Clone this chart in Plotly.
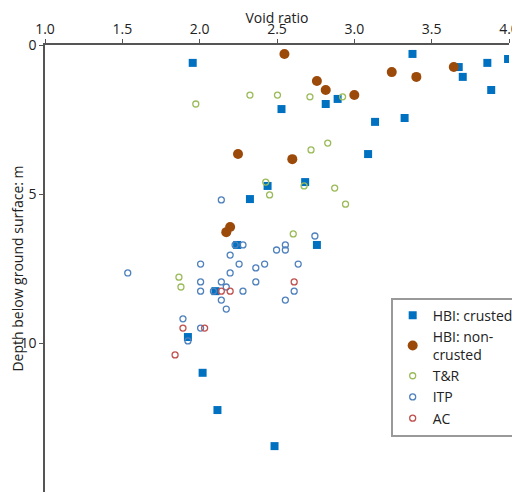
import plotly.graph_objects as go

# HBI: crusted
hbi_c_x = [1.955, 3.376, 3.860, 3.994, 3.675, 3.701, 3.885, 2.529, 2.815, 2.892, 3.134, 3.325,
           3.089, 2.682, 2.439, 2.325, 2.758, 2.242, 2.102, 1.924, 2.019, 2.115, 2.484]
hbi_c_y = [0.60, 0.30, 0.60, 0.47, 0.74, 1.07, 1.51, 2.15, 1.98, 1.81, 2.58, 2.45,
           3.66, 4.60, 4.73, 5.17, 6.71, 6.71, 8.26, 9.80, 11.0, 12.25, 13.46]
# HBI: non-crusted
hbi_n_x = [3.643, 3.401, 3.242, 3.000, 2.815, 2.758, 2.548, 2.248, 2.599, 2.197, 2.172]
hbi_n_y = [0.74, 1.07, 0.91, 1.68, 1.51, 1.21, 0.30, 3.66, 3.83, 6.11, 6.28]
# T&R
tr_x = [1.975, 2.325, 2.503, 2.713, 2.924, 2.828, 2.720, 2.427, 2.675, 2.873, 2.452, 2.605, 1.866, 1.879, 2.943]
tr_y = [1.98, 1.68, 1.68, 1.74, 1.74, 3.29, 3.52, 4.60, 4.73, 4.80, 5.03, 6.34, 7.79, 8.12, 5.34]
# ITP
itp_x = [2.140, 2.745, 2.229, 2.280, 2.497, 2.554, 2.554, 2.197, 2.006, 2.255, 2.420, 2.637, 2.363, 1.535,
         2.197, 2.006, 2.140, 2.363, 2.006, 2.089, 2.172, 2.280, 2.611, 2.140, 2.554, 2.172, 1.892, 2.006, 1.924]
itp_y = [5.20, 6.41, 6.71, 6.71, 6.88, 6.71, 6.88, 7.05, 7.35, 7.35, 7.35, 7.35, 7.48, 7.65,
         7.65, 7.95, 7.95, 7.95, 8.26, 8.26, 8.12, 8.26, 8.26, 8.56, 8.56, 8.86, 9.19, 9.50, 9.93]
# AC
ac_x = [2.611, 2.140, 2.197, 1.892, 2.032, 1.841]
ac_y = [7.95, 8.26, 8.26, 9.50, 9.50, 10.40]

fig = go.Figure()
fig.add_trace(go.Scatter(x=hbi_c_x, y=hbi_c_y, mode='markers', name='HBI: crusted',
                         marker=dict(symbol='square', size=8, color='#0070C0')))
fig.add_trace(go.Scatter(x=hbi_n_x, y=hbi_n_y, mode='markers', name='HBI: non-<br>crusted',
                         marker=dict(symbol='circle', size=10, color='#9C4A0A')))
fig.add_trace(go.Scatter(x=tr_x, y=tr_y, mode='markers', name='T&R',
                         marker=dict(symbol='circle-open', size=6, color='#9BBB59', line=dict(width=1.3))))
fig.add_trace(go.Scatter(x=itp_x, y=itp_y, mode='markers', name='ITP',
                         marker=dict(symbol='circle-open', size=6, color='#4F81BD', line=dict(width=1.3))))
fig.add_trace(go.Scatter(x=ac_x, y=ac_y, mode='markers', name='AC',
                         marker=dict(symbol='circle-open', size=6, color='#C0504D', line=dict(width=1.3))))

axis_common = dict(showgrid=False, zeroline=False, showline=True, linecolor='#555', linewidth=1.5,
                   ticks='outside', ticklen=4, tickcolor='#555', automargin=False,
                   tickfont=dict(size=14, color='#222'))
fig.update_layout(
    width=520, height=492,
    margin=dict(l=37, r=12, t=37, b=8),
    paper_bgcolor='white', plot_bgcolor='white',
    font=dict(family='Open Sans', color='#222'),
    xaxis=dict(axis_common, side='top', range=[1, 4], dtick=0.5, tickformat='.1f',
               title=dict(text='Void ratio', font=dict(size=14), standoff=0)),
    yaxis=dict(axis_common, range=[15, 0], dtick=5,
               title=dict(text='Depth below ground surface: m', font=dict(size=14), standoff=2)),
    legend=dict(x=0.745, y=0.435, xanchor='left', yanchor='top', bgcolor='white',
                bordercolor='#999', borderwidth=2, font=dict(size=14), tracegroupgap=6,
                itemwidth=30),
)
fig.write_html('out.html')
